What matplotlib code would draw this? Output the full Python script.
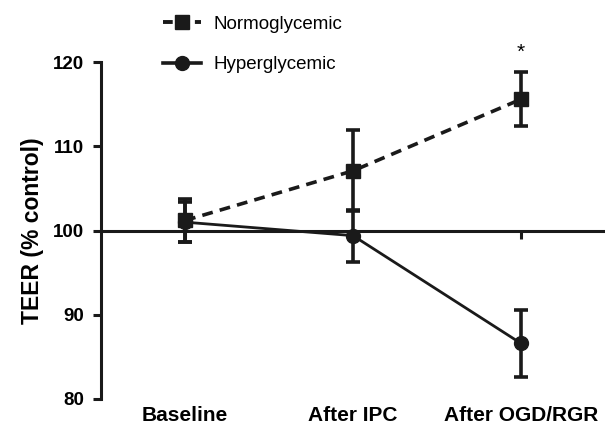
import numpy as np
import matplotlib.pyplot as plt
from matplotlib.lines import Line2D
from matplotlib.transforms import blended_transform_factory

plt.rcParams['font.family'] = ['Liberation Sans', 'DejaVu Sans']

# data
categories = ["Baseline", "After IPC", "After OGD/RGR"]
normo_mean = [101.2, 107.1, 115.6]
normo_err = [2.6, 4.8, 3.2]
hyper_mean = [101.0, 99.4, 86.6]
hyper_err = [2.4, 3.1, 4.0]
yticks = [80, 90, 100, 110, 120]

x = np.arange(len(categories))
ink = "#1a1a1a"

fig = plt.figure(figsize=(6.05, 4.29), dpi=100)
ax = fig.add_axes([0.167, 0.070, 0.833, 0.785])

ax.errorbar(x, normo_mean, yerr=normo_err, color=ink, lw=2.6,
            ls=(0, (3, 2)), marker="s", ms=9.5, capsize=5, capthick=2.6,
            elinewidth=2.6, clip_on=False, zorder=3)
ax.errorbar(x, hyper_mean, yerr=hyper_err, color=ink, lw=2.0,
            marker="o", ms=10, capsize=5, capthick=2.6,
            elinewidth=2.6, clip_on=False, zorder=3)

ax.set_xlim(-0.5, 2.5)
ax.set_ylim(80, 120)
ax.set_yticks(yticks)
ax.set_yticklabels([str(t) for t in yticks], fontweight="bold", fontsize=13.5)

# x axis sits on the 100% line
ax.spines["top"].set_visible(False)
ax.spines["right"].set_visible(False)
ax.spines["bottom"].set_position(("data", 100))
for s in ["bottom", "left"]:
    ax.spines[s].set_linewidth(2.2)
    ax.spines[s].set_color(ink)
ax.set_xticks(x)
ax.set_xticklabels([])
ax.tick_params(axis="both", width=2.2, length=6, color=ink)
ax.tick_params(axis="y", pad=6)

trans = blended_transform_factory(ax.transData, ax.transAxes)
for xi, c in zip(x, categories):
    ax.text(xi, -0.022, c, transform=trans, ha="center", va="top",
            fontweight="bold", fontsize=15)

ax.set_ylabel("TEER (% control)", fontweight="bold", fontsize=16.5, labelpad=7)

ax.text(2, 120.1, "*", ha="center", va="bottom", fontsize=15, clip_on=False)

handles = [
    Line2D([], [], color=ink, lw=2.8, ls=(0, (2.5, 1.6)), marker="s", ms=9.5),
    Line2D([], [], color=ink, lw=2.6, marker="o", ms=10),
]
fig.legend(handles, ["Normoglycemic", "Hyperglycemic"], loc="upper left",
           bbox_to_anchor=(0.242, 1.003), frameon=False, fontsize=13.5,
           handlelength=2.0, labelspacing=1.25, handletextpad=0.7)

fig.savefig("out.png", dpi=100)
